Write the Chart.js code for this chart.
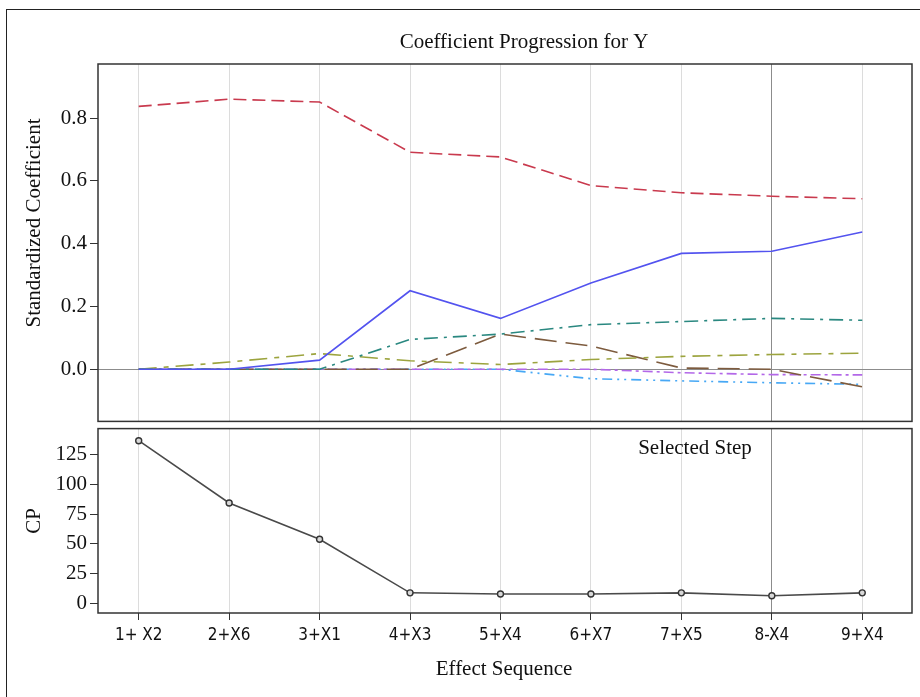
<!DOCTYPE html>
<html lang="en">
<head>
  <meta charset="UTF-8">
  <title>Coefficient Progression for Y</title>
  <script src="https://cdn.jsdelivr.net/npm/chart.js"></script>
  <style>
    html, body { margin: 0; padding: 0; background: #fff; }
    body { width: 920px; height: 697px; position: relative; overflow: hidden; }
    .frame { position: absolute; left: 6px; top: 9px; width: 1000px; height: 1000px; border: 1.5px solid #222; }
    .panel { position: absolute; left: 0; width: 920px; }
    #topPanel { top: 0; height: 437px; }
    #cpPanel { top: 413px; height: 284px; }
  </style>
</head>
<body>
  <div class="frame"></div>
  <div class="panel" id="topPanel"><canvas id="coefChart"></canvas></div>
  <div class="panel" id="cpPanel"><canvas id="cpChart"></canvas></div>

<script>
  // effect sequence (x axis)
  const steps = ['1+ X2', '2+X6', '3+X1', '4+X3', '5+X4', '6+X7', '7+X5', '8-X4', '9+X4'];
  const selectedStep = 7;

  // standardized coefficients per effect
  const coefX2 = [0.837, 0.860, 0.851, 0.691, 0.676, 0.585, 0.562, 0.551, 0.543];
  const coefX1 = [0, 0, 0.029, 0.250, 0.162, 0.275, 0.369, 0.376, 0.437];
  const coefX3 = [0, 0, 0, 0.095, 0.112, 0.142, 0.152, 0.162, 0.156];
  const coefX6 = [0, 0.023, 0.050, 0.027, 0.015, 0.031, 0.041, 0.047, 0.051];
  const coefX4 = [0, 0, 0, 0, 0.112, 0.074, 0.004, 0, -0.056];
  const coefX5 = [0, 0, 0, 0, 0, 0, -0.011, -0.017, -0.018];
  const coefX7 = [0, 0, 0, 0, 0, -0.030, -0.037, -0.043, -0.048];

  // Mallows CP per step
  const cpValues = [136.8, 84.3, 53.8, 8.6, 7.6, 7.6, 8.6, 6.1, 8.6];

  const coefTicks = [0, 0.2, 0.4, 0.6, 0.8];
  const cpTicks = [0, 25, 50, 75, 100, 125];

  const serif = '"Liberation Serif", "DejaVu Serif", serif';
  const narrow = '"Liberation Sans Narrow", "DejaVu Sans Condensed", sans-serif';

  const toXY = arr => arr.map((v, i) => ({ x: i, y: v }));
  const stepTicks = scale => { scale.ticks = steps.map((s, i) => ({ value: i })); };

  function gridX(ctx) {
    return ctx.tick && ctx.tick.value === selectedStep ? '#8c8c8c' : '#dcdcdc';
  }

  // frame + free text labels
  const framePlugin = {
    id: 'frame',
    afterDraw(chart, args, opts) {
      const a = chart.chartArea;
      const c = chart.ctx;
      c.save();
      c.strokeStyle = '#333';
      c.lineWidth = 1.5;
      c.strokeRect(a.left, a.top, a.right - a.left, a.bottom - a.top);
      c.fillStyle = '#111';
      c.textAlign = 'center';
      c.textBaseline = 'middle';
      (opts.texts || []).forEach(t => {
        c.save();
        c.font = t.font;
        c.translate(t.x, t.y);
        if (t.rot) c.rotate(t.rot);
        c.fillText(t.text, 0, 0);
        c.restore();
      });
      c.restore();
    }
  };

  const coefSeries = [
    { label: 'X2', data: coefX2, color: '#c93a4e', dash: [13, 6] },
    { label: 'X1', data: coefX1, color: '#5353ef', dash: [] },
    { label: 'X3', data: coefX3, color: '#2a8880', dash: [14, 6, 3, 6] },
    { label: 'X6', data: coefX6, color: '#9ca43e', dash: [18, 7, 5, 7] },
    { label: 'X4', data: coefX4, color: '#7d5b3e', dash: [22, 9] },
    { label: 'X5', data: coefX5, color: '#b368e8', dash: [10, 4, 3, 4] },
    { label: 'X7', data: coefX7, color: '#47a8f5', dash: [10, 5, 2, 5, 2, 5] }
  ];

  new Chart(document.getElementById('coefChart'), {
    type: 'line',
    data: {
      datasets: coefSeries.map(s => ({
        label: s.label,
        data: toXY(s.data),
        borderColor: s.color,
        borderWidth: 1.6,
        borderDash: s.dash,
        pointRadius: 0,
        tension: 0
      }))
    },
    options: {
      responsive: true,
      maintainAspectRatio: false,
      animation: false,
      layout: { padding: { top: 64, right: 8, bottom: 4, left: 0 } },
      plugins: {
        legend: { display: false },
        tooltip: { enabled: false },
        frame: {
          texts: [
            { text: 'Coefficient Progression for Y', x: 524, y: 42, font: '21px ' + serif },
            { text: 'Standardized Coefficient', x: 34, y: 223, rot: -Math.PI / 2, font: '21px ' + serif }
          ]
        }
      },
      scales: {
        x: {
          type: 'linear',
          min: -0.45,
          max: 8.55,
          afterBuildTicks: stepTicks,
          ticks: { display: false },
          grid: { color: gridX, drawTicks: false, lineWidth: 1 },
          border: { display: false },
          afterFit(scale) { scale.height = 0; }
        },
        y: {
          min: -0.166,
          max: 0.972,
          afterBuildTicks(scale) { scale.ticks = coefTicks.map(v => ({ value: v })); },
          ticks: {
            color: '#111',
            font: { family: serif, size: 21 },
            padding: 3,
            callback: v => v.toFixed(1)
          },
          grid: {
            color: ctx => (ctx.tick && ctx.tick.value === 0 ? '#8c8c8c' : 'rgba(0,0,0,0)'),
            tickColor: '#333',
            tickLength: 8
          },
          border: { display: false },
          afterFit(scale) { scale.width = 98; }
        }
      }
    },
    plugins: [framePlugin]
  });

  new Chart(document.getElementById('cpChart'), {
    type: 'line',
    data: {
      datasets: [{
        label: 'CP',
        data: toXY(cpValues),
        borderColor: '#4a4a4a',
        borderWidth: 1.6,
        pointRadius: 3,
        pointBorderWidth: 1.4,
        pointBorderColor: '#333',
        pointBackgroundColor: '#d8d8d8',
        tension: 0
      }]
    },
    options: {
      responsive: true,
      maintainAspectRatio: false,
      animation: false,
      layout: { padding: { top: 4, right: 8, bottom: 0, left: 0 } },
      plugins: {
        legend: { display: false },
        tooltip: { enabled: false },
        frame: {
          texts: [
            { text: 'Selected Step', x: 695, y: 35, font: '21px ' + serif },
            { text: 'CP', x: 34, y: 108, rot: -Math.PI / 2, font: '21px ' + serif },
            { text: 'Effect Sequence', x: 504, y: 256, font: '21px ' + serif }
          ]
        }
      },
      scales: {
        x: {
          type: 'linear',
          min: -0.45,
          max: 8.55,
          afterBuildTicks: stepTicks,
          ticks: {
            color: '#111',
            font: { family: narrow, size: 17 },
            padding: 5,
            maxRotation: 0,
            autoSkip: false,
            callback: v => steps[v]
          },
          grid: { color: gridX, tickColor: '#333', tickLength: 7 },
          border: { display: false },
          afterFit(scale) { scale.height = 84; }
        },
        y: {
          min: -8.4,
          max: 147,
          afterBuildTicks(scale) { scale.ticks = cpTicks.map(v => ({ value: v })); },
          ticks: {
            color: '#111',
            font: { family: serif, size: 21 },
            padding: 3
          },
          grid: { color: 'rgba(0,0,0,0)', tickColor: '#333', tickLength: 8 },
          border: { display: false },
          afterFit(scale) { scale.width = 98; }
        }
      }
    },
    plugins: [framePlugin]
  });
</script>
</body>
</html>
